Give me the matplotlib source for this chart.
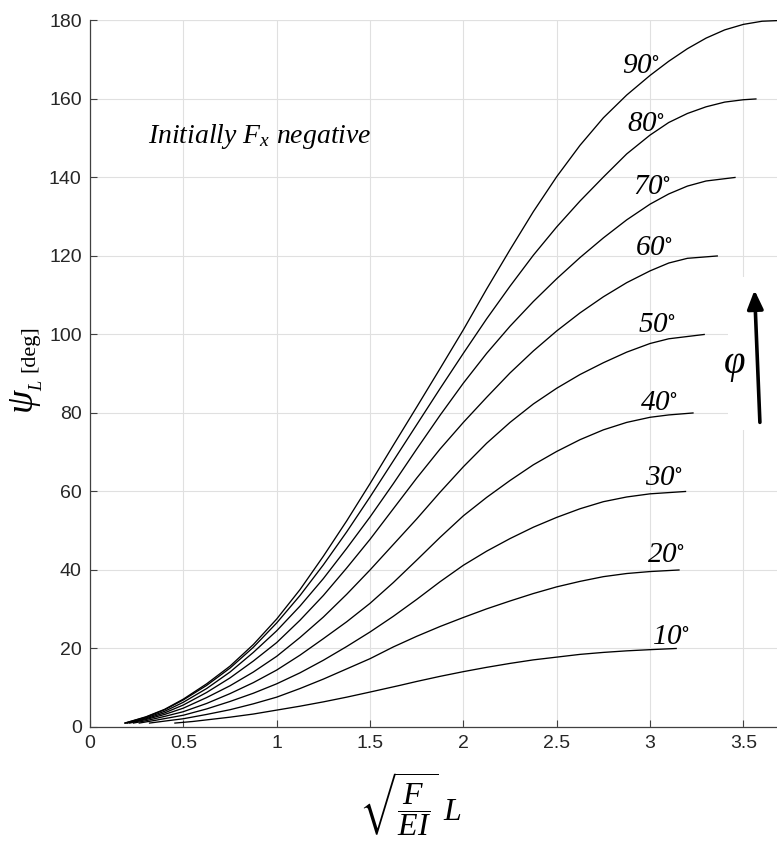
import matplotlib
matplotlib.use("Agg")
import matplotlib.pyplot as plt
from matplotlib.patches import Rectangle, FancyArrowPatch

# --- data (x = sqrt(F/EI) L, y = psi_L in deg) ---
x90 = [0.187, 0.3, 0.4, 0.5, 0.625, 0.75, 0.875, 1.0, 1.125, 1.25, 1.375, 1.5, 1.625, 1.75, 1.875,
       2.0, 2.125, 2.25, 2.375, 2.5, 2.625, 2.75, 2.875, 3.0, 3.1, 3.2, 3.3, 3.4, 3.5, 3.6, 3.7]
y90 = [1.0, 2.6, 4.5, 7.1, 11.0, 15.5, 21.0, 27.5, 35.0, 43.5, 52.5, 62.0, 71.8, 81.5, 91.3,
       101.2, 111.6, 121.6, 131.3, 140.2, 148.2, 155.2, 161.0, 166.0, 169.6, 172.8, 175.5, 177.6, 179.0, 179.8, 180.0]

x80 = [0.188, 0.3, 0.4, 0.5, 0.625, 0.75, 0.875, 1.0, 1.125, 1.25, 1.375, 1.5, 1.625, 1.75, 1.875,
       2.0, 2.125, 2.25, 2.375, 2.5, 2.625, 2.75, 2.875, 3.0, 3.1, 3.2, 3.3, 3.4, 3.5, 3.567]
y80 = [1.0, 2.5, 4.4, 6.9, 10.6, 15.0, 20.3, 26.5, 33.5, 41.3, 49.7, 58.6, 67.8, 77.0, 86.2,
       95.2, 104.0, 112.3, 120.2, 127.4, 134.0, 140.1, 146.0, 150.8, 154.0, 156.3, 158.0, 159.2, 159.8, 160.0]

x70 = [0.193, 0.3, 0.4, 0.5, 0.625, 0.75, 0.875, 1.0, 1.125, 1.25, 1.375, 1.5, 1.625, 1.75, 1.875,
       2.0, 2.125, 2.25, 2.375, 2.5, 2.625, 2.75, 2.875, 3.0, 3.1, 3.2, 3.3, 3.455]
y70 = [1.0, 2.3, 4.0, 6.3, 9.8, 14.0, 19.0, 24.5, 30.8, 37.8, 45.5, 53.5, 62.0, 70.8, 79.4,
       87.6, 95.2, 102.1, 108.4, 114.2, 119.6, 124.6, 129.2, 133.2, 135.8, 137.8, 139.1, 140.0]

x60 = [0.201, 0.3, 0.4, 0.5, 0.625, 0.75, 0.875, 1.0, 1.125, 1.25, 1.375, 1.5, 1.625, 1.75, 1.875,
       2.0, 2.125, 2.25, 2.375, 2.5, 2.625, 2.75, 2.875, 3.0, 3.1, 3.2, 3.36]
y60 = [1.0, 2.1, 3.6, 5.6, 8.8, 12.5, 16.8, 21.5, 27.2, 33.5, 40.5, 47.8, 55.6, 63.4, 70.8,
       77.6, 84.0, 90.2, 95.8, 100.9, 105.5, 109.6, 113.2, 116.2, 118.2, 119.4, 120.0]

x50 = [0.213, 0.3, 0.4, 0.5, 0.625, 0.75, 0.875, 1.0, 1.125, 1.25, 1.375, 1.5, 1.625, 1.75, 1.875,
       2.0, 2.125, 2.25, 2.375, 2.5, 2.625, 2.75, 2.875, 3.0, 3.1, 3.29]
y50 = [1.0, 1.9, 3.2, 4.8, 7.5, 10.5, 14.0, 18.0, 22.8, 28.0, 33.8, 40.0, 46.5, 53.0, 59.8,
       66.3, 72.3, 77.6, 82.3, 86.3, 89.8, 92.8, 95.5, 97.7, 98.9, 100.0]

x40 = [0.233, 0.3, 0.4, 0.5, 0.625, 0.75, 0.875, 1.0, 1.125, 1.25, 1.375, 1.5, 1.625, 1.75, 1.875,
       2.0, 2.125, 2.25, 2.375, 2.5, 2.625, 2.75, 2.875, 3.0, 3.1, 3.23]
y40 = [1.0, 1.6, 2.7, 3.9, 6.0, 8.5, 11.3, 14.5, 18.3, 22.5, 26.8, 31.5, 36.8, 42.5, 48.3,
       53.8, 58.5, 62.8, 66.8, 70.2, 73.2, 75.7, 77.6, 78.9, 79.5, 80.0]

x30 = [0.264, 0.35, 0.5, 0.625, 0.75, 0.875, 1.0, 1.125, 1.25, 1.375, 1.5, 1.625, 1.75, 1.875,
       2.0, 2.125, 2.25, 2.375, 2.5, 2.625, 2.75, 2.875, 3.0, 3.19]
y30 = [1.0, 1.7, 3.0, 4.6, 6.5, 8.6, 11.0, 13.8, 17.0, 20.5, 24.2, 28.2, 32.5, 37.0,
       41.2, 44.8, 48.0, 50.9, 53.4, 55.6, 57.4, 58.6, 59.4, 60.0]

x20 = [0.319, 0.4, 0.5, 0.625, 0.75, 0.875, 1.0, 1.125, 1.25, 1.375, 1.5, 1.625, 1.75, 1.875,
       2.0, 2.125, 2.25, 2.375, 2.5, 2.625, 2.75, 2.875, 3.0, 3.155]
y20 = [1.0, 1.5, 2.1, 3.2, 4.4, 5.9, 7.6, 9.8, 12.2, 14.8, 17.4, 20.4, 23.1, 25.6,
       27.9, 30.1, 32.1, 34.0, 35.7, 37.1, 38.3, 39.1, 39.6, 40.0]

x10 = [0.455, 0.55, 0.75, 0.875, 1.0, 1.125, 1.25, 1.375, 1.5, 1.66, 1.75, 1.875,
       2.0, 2.125, 2.25, 2.375, 2.5, 2.625, 2.75, 2.875, 3.0, 3.14]
y10 = [1.0, 1.4, 2.5, 3.3, 4.3, 5.3, 6.4, 7.6, 8.9, 10.6, 11.6, 12.9,
       14.1, 15.2, 16.2, 17.1, 17.8, 18.5, 19.0, 19.4, 19.7, 20.0]

phi_deg = [10, 20, 30, 40, 50, 60, 70, 80, 90]
# label anchor (left, baseline) in data units
label_x = [3.008, 2.982, 2.973, 2.945, 2.935, 2.92, 2.91, 2.875, 2.85]
label_y = [21.1, 42.1, 61.6, 80.8, 100.7, 120.3, 135.9, 151.9, 166.6]

xticks = [0, 0.5, 1, 1.5, 2, 2.5, 3, 3.5]
xticklabels = ['0', '0.5', '1', '1.5', '2', '2.5', '3', '3.5']
yticks = [0, 20, 40, 60, 80, 100, 120, 140, 160, 180]

plt.rcParams['mathtext.fontset'] = 'custom'
plt.rcParams['mathtext.rm'] = 'Liberation Serif'
plt.rcParams['mathtext.it'] = 'Liberation Serif:italic'
plt.rcParams['mathtext.bf'] = 'Liberation Serif:bold'
plt.rcParams['mathtext.fallback'] = 'stix'
plt.rcParams['font.family'] = ['Liberation Sans', 'DejaVu Sans']

SERIF = ['Liberation Serif', 'DejaVu Serif']

fig = plt.figure(figsize=(7.77, 8.63), dpi=100)
ax = fig.add_axes([0.1158, 0.1576, 0.8842, 0.8187])

curves = [(x10, y10), (x20, y20), (x30, y30), (x40, y40), (x50, y50),
          (x60, y60), (x70, y70), (x80, y80), (x90, y90)]
for (xs, ys) in curves:
    ax.plot(xs, ys, color='black', lw=0.95, zorder=3, solid_joinstyle='round')

for phi, lx, ly in zip(phi_deg, label_x, label_y):
    ax.text(lx, ly, r'%d$^{\circ}$' % phi, fontsize=21, family=SERIF, style='italic',
            ha='left', va='baseline', zorder=4)

ax.set_xlim(0, 3.68)
ax.set_ylim(0, 180)
ax.set_xticks(xticks)
ax.set_xticklabels(xticklabels)
ax.set_yticks(yticks)
ax.tick_params(direction='in', length=5, width=0.8, colors='#404040',
               labelsize=14, labelcolor='#262626', pad=6)
ax.grid(True, color='#e0e0e0', lw=0.8)
ax.set_axisbelow(True)
for s in ['top', 'right']:
    ax.spines[s].set_visible(False)
for s in ['left', 'bottom']:
    ax.spines[s].set_color('#404040')
    ax.spines[s].set_linewidth(0.9)
# top border is only a grid line in the reference
ax.axhline(180, color='#e0e0e0', lw=0.8, zorder=0)

# white patch behind the phi arrow (covers the grid there)
ax.add_patch(Rectangle((3.417, 75.7), 0.4, 38.9, facecolor='white',
                       edgecolor='none', zorder=1, clip_on=True))
arr = FancyArrowPatch((3.589, 76.9), (3.559, 112.0),
                      arrowstyle='-|>,head_length=7,head_width=3',
                      color='black', lw=2.6, zorder=4, mutation_scale=1.6)
ax.add_patch(arr)
ax.text(3.452, 92, r'$\varphi$', fontsize=28, ha='center', va='center', zorder=4)

ax.text(0.31, 148.7, r'Initially $F_x$ negative', fontsize=20, family=SERIF,
        style='italic', ha='left', va='baseline')

# y label: large psi_L plus smaller [deg], both rotated
fig.text(0.0386, 0.5956, '[deg]', fontsize=16, family=SERIF, rotation=90,
         ha='center', va='center')
fig.text(0.0350, 0.5410, r'$\psi_{_L}$', fontsize=27, rotation=90,
         ha='center', va='center')

ax.set_xlabel(r'$\sqrt{\dfrac{F}{EI}}\ L$', fontsize=23)
ax.xaxis.set_label_coords(0.466, -0.062)

fig.savefig('out.png', dpi=100)
